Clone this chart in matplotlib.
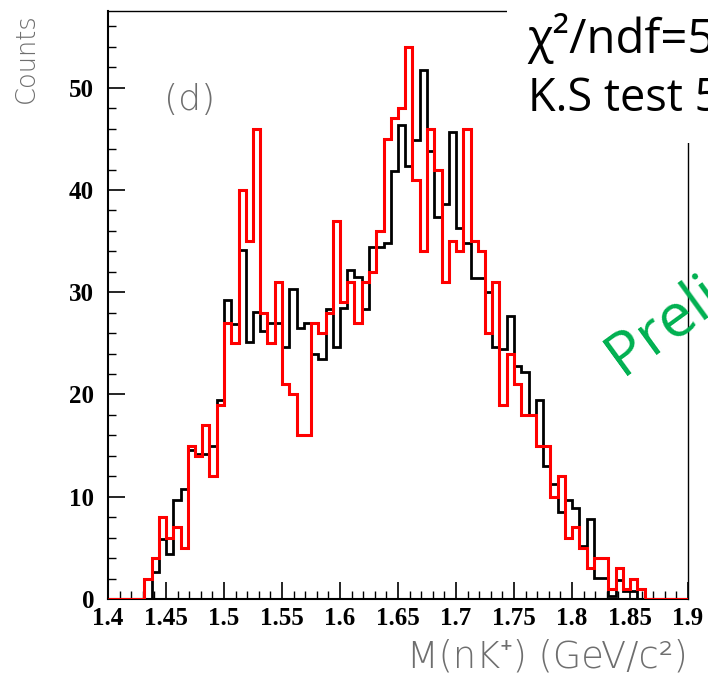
import numpy as np
import matplotlib
matplotlib.use("Agg")
import matplotlib.pyplot as plt
from matplotlib.ticker import MultipleLocator, FuncFormatter
from matplotlib.patches import Rectangle

# histogram binning: 80 bins on 1.4 - 1.9 GeV/c^2
bin_lo, bin_hi, n_bins = 1.4, 1.9, 80

# data (red) counts per bin
data_counts = [0, 0, 0, 0, 0, 2, 4, 8, 6, 7,
               5, 15, 14, 17, 12, 19, 27, 25, 40, 35,
               46, 28, 25, 31, 21, 20, 16, 16, 27, 26,
               28, 37, 29, 31, 27, 31, 32, 36, 45, 47,
               48, 54, 41, 34, 46, 42, 31, 35, 34, 46,
               35, 34, 26, 31, 19, 24, 21, 18, 18, 15,
               15, 10, 12, 6, 7, 5, 3, 4, 4, 1,
               3, 1, 2, 1, 0, 0, 0, 0, 0, 0]

# simulation (black) counts per bin, normalised
mc_counts = [0, 0, 0, 0, 0, 0, 2.6, 5.9, 4.4, 9.7,
             10.8, 14.6, 14.2, 14.2, 15.0, 19.5, 29.2, 26.9, 34.1, 25.1,
             28.1, 26.2, 27.0, 27.0, 24.6, 30.3, 26.5, 27.0, 24.0, 23.5,
             28.4, 24.6, 28.5, 32.2, 31.5, 28.4, 34.4, 34.4, 34.8, 41.9,
             46.4, 42.3, 44.9, 51.7, 43.8, 37.4, 38.6, 45.7, 36.3, 34.8,
             31.4, 31.4, 30.0, 24.6, 24.4, 27.7, 22.8, 22.2, 18.0, 19.5,
             13.0, 11.2, 8.5, 9.7, 8.9, 5.2, 7.8, 2.1, 2.1, 0.3,
             1.9, 0.8, 0.8, 0, 0, 0, 0, 0, 0, 0]

edges = np.linspace(bin_lo, bin_hi, n_bins + 1)

W, H = 708, 678
fig = plt.figure(figsize=(W / 100, H / 100), dpi=100)
ax = fig.add_axes([108 / W, 1 - 599 / H, 580 / W, 588 / H])

ax.stairs(mc_counts, edges, color="black", lw=2.0, zorder=2)
ax.stairs(data_counts, edges, color="#ff0000", lw=2.2, zorder=3)

ax.set_xlim(bin_lo, bin_hi)
ax.set_ylim(0, 57.5)

ax.xaxis.set_major_locator(MultipleLocator(0.05))
ax.xaxis.set_minor_locator(MultipleLocator(0.01))
ax.yaxis.set_major_locator(MultipleLocator(10))
ax.yaxis.set_minor_locator(MultipleLocator(2))
fmt = FuncFormatter(lambda v, p: "%g" % round(v, 3))
ax.xaxis.set_major_formatter(fmt)
ax.yaxis.set_major_formatter(fmt)

ax.tick_params(which="both", direction="in", top=False, right=False, color="black")
ax.tick_params(which="major", length=12, width=1.2)
ax.tick_params(which="minor", length=6, width=1.0)
ax.tick_params(axis="x", pad=6)
ax.tick_params(axis="y", pad=10)
for lab in ax.get_xticklabels() + ax.get_yticklabels():
    lab.set_fontfamily("Liberation Serif")
    lab.set_fontweight("bold")
    lab.set_fontsize(18)

ax.spines["left"].set_linewidth(1.5)
ax.spines["bottom"].set_linewidth(1.5)
ax.spines["top"].set_linewidth(1.0)
ax.spines["right"].set_linewidth(1.0)

grey = "#6e6e6e"
thin = ["DejaVu Sans", "Noto Sans"]
fig.text(26 / W, 1 - 13 / H, "Counts", rotation=90, ha="center", va="top",
         fontsize=18.5, color=grey, fontweight="light", family=thin)
fig.text(688 / W, 1 - 657 / H, "M(nK⁺) (GeV/c²)", ha="right", va="center",
         fontsize=26.5, color=grey, fontweight="light", family=thin)
fig.text(190 / W, 1 - 100 / H, "(d)", ha="center", va="center",
         fontsize=26, color=grey, fontweight="light", family=thin)

# white box pasted over the upper right corner
fig.add_artist(Rectangle((507 / W, 1 - 143 / H), (W - 507) / W, 143 / H,
                         transform=fig.transFigure, facecolor="white",
                         edgecolor="none", zorder=5))
fig.text(527 / W, 1 - 53 / H, "χ²/ndf=5", ha="left", va="baseline",
         fontsize=34, family="Open Sans", color="black", zorder=6)
fig.text(528 / W, 1 - 111 / H, "K.S test 5", ha="left", va="baseline",
         fontsize=32.5, family="Open Sans", color="black", zorder=6)

fig.text(622 / W, 1 - 376 / H, "Preli", rotation=36, rotation_mode="anchor",
         ha="left", va="baseline", fontsize=44, family="Open Sans",
         color="#00b050", zorder=6)

fig.savefig("out.png", dpi=100)
